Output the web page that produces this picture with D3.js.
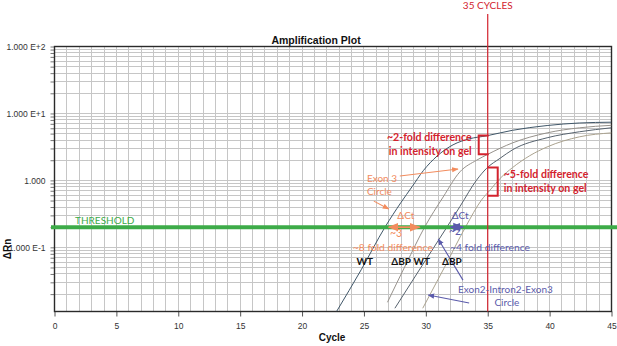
<!DOCTYPE html>
<html>
<head>
<meta charset="utf-8">
<script src="https://cdn.jsdelivr.net/npm/d3@7"></script>
<style>
  body { margin: 0; background: #fff; }
  svg { display: block; }
  .ann { font-family: Lato, "Open Sans", sans-serif; }
  .axis text { font-family: "Liberation Sans", Arial, sans-serif; font-size: 8.5px; fill: #333; }
</style>
</head>
<body>
<svg id="chart" width="617" height="346"></svg>
<script>
// tick labels
const cycleTicks = d3.range(0, 46, 5);
const yTickValues = [100, 10, 1, 0.1];
const yTickLabels = ["1.000 E+2", "1.000 E+1", "1.000", "1.000 E-1"];
const threshold = 0.2;
const markCycle = 35;

// Exon 3 circle, WT
const wtExon3Cycle = [22.8, 24.8, 26.7, 28.0, 28.9, 29.8, 30.9, 32.2, 33.5, 34.9, 37.0, 39.8, 42.4, 45];
const wtExon3Rn = [0.0111, 0.047, 0.2, 0.47, 0.81, 1.4, 2.3, 3.4, 4.17, 4.63, 5.6, 6.6, 7.2, 7.4];
// Exon 3 circle, ΔBP
const bpExon3Cycle = [26.9, 28.4, 29.9, 31.4, 32.75, 34.1, 35.0, 37.0, 39.8, 42.4, 45];
const bpExon3Rn = [0.0151, 0.056, 0.2, 0.565, 1.34, 2.0, 2.45, 3.63, 5.13, 6.1, 6.65];
// Exon2-Intron2-Exon3 circle, WT
const wtE2Cycle = [27.5, 29.6, 31.7, 32.75, 34.1, 34.9, 36.0, 37.0, 39.8, 42.4, 45];
const wtE2Rn = [0.0123, 0.05, 0.2, 0.405, 1.01, 1.51, 2.14, 2.86, 4.33, 5.32, 6.11];
// Exon2-Intron2-Exon3 circle, ΔBP
const bpE2Cycle = [29.75, 31.5, 33.2, 34.5, 35.2, 36.0, 37.0, 38.4, 39.8, 42.4, 45];
const bpE2Rn = [0.0123, 0.05, 0.2, 0.51, 0.72, 1.07, 1.55, 2.34, 3.16, 4.47, 5.13];

const curveLabels = ["WT", "ΔBP", "WT", "ΔBP"];
// Ct at threshold
const ctExon3 = [26.7, 29.8];
const ctE2 = [31.7, 33.3];

const series = [
  { cycle: wtExon3Cycle, rn: wtExon3Rn, color: "#3f5668" },
  { cycle: bpExon3Cycle, rn: bpExon3Rn, color: "#96918b" },
  { cycle: wtE2Cycle, rn: wtE2Rn, color: "#56626e" },
  { cycle: bpE2Cycle, rn: bpE2Rn, color: "#aaa28e" },
];

const W = 617, H = 346;
const margin = { top: 46.5, right: 5.5, bottom: 34.5, left: 54.5 };
const svg = d3.select("#chart");

const x = d3.scaleLinear().domain([0, 45]).range([margin.left, W - margin.right]);
const y = d3.scaleLog().domain([0.011, 100]).range([H - margin.bottom, margin.top]);
const x0 = x.range()[0], x1 = x.range()[1], yb = y.range()[0], yt = y.range()[1];

const RED = "#d3232e", ORANGE = "#f28c5e", BLUE = "#5b5bab", GREEN = "#3dab48";

const defs = svg.append("defs");
defs.append("clipPath").attr("id", "plot")
  .append("rect").attr("x", x0).attr("y", yt).attr("width", x1 - x0).attr("height", yb - yt);
function marker(id, color) {
  defs.append("marker").attr("id", id)
    .attr("viewBox", "0 0 10 10").attr("refX", 9).attr("refY", 5)
    .attr("markerWidth", 6).attr("markerHeight", 6)
    .attr("orient", "auto-start-reverse")
    .append("path").attr("d", "M0,1L10,5L0,9Z").attr("fill", color);
}
marker("arrO", ORANGE);
marker("arrB", BLUE);

// grid
const minor = y.ticks();
const grid = svg.append("g").attr("stroke", "#c6c6c6").attr("stroke-width", 1)
  .attr("shape-rendering", "crispEdges");
grid.selectAll("line.v").data(d3.range(1, 45)).join("line").attr("class", "v")
  .attr("x1", d => x(d)).attr("x2", d => x(d)).attr("y1", yt).attr("y2", yb);
grid.selectAll("line.h").data(minor.filter(v => v < 100)).join("line").attr("class", "h")
  .attr("x1", x0).attr("x2", x1).attr("y1", d => y(d)).attr("y2", d => y(d));

// axes
const isMajor = v => yTickValues.findIndex(t => Math.abs(Math.log10(t) - Math.log10(v)) < 1e-6);
svg.append("g").attr("class", "axis")
  .attr("transform", `translate(${x0},0)`)
  .call(d3.axisLeft(y).tickValues(minor).tickSize(4).tickPadding(5)
    .tickFormat(v => { const i = isMajor(v); return i < 0 ? "" : yTickLabels[i]; }))
  .call(g => g.select(".domain").remove())
  .call(g => g.selectAll(".tick line").attr("stroke", "#777"));

svg.append("g").attr("class", "axis")
  .attr("transform", `translate(0,${yb})`)
  .call(d3.axisBottom(x).tickValues(cycleTicks).tickSize(5).tickPadding(6).tickFormat(d3.format("d")))
  .call(g => g.select(".domain").remove())
  .call(g => g.selectAll(".tick line").attr("stroke", "#555"));

svg.append("rect").attr("x", x0).attr("y", yt).attr("width", x1 - x0).attr("height", yb - yt)
  .attr("fill", "none").attr("stroke", "#2a2a2a").attr("stroke-width", 1.4);

// titles
svg.append("text").attr("x", (x0 + x1) / 2 - 17).attr("y", 43.5).attr("text-anchor", "middle")
  .attr("font-family", "Liberation Sans, Arial, sans-serif").attr("font-weight", "bold")
  .attr("font-size", 10.5).attr("fill", "#111").text("Amplification Plot");
svg.append("text").attr("x", 332).attr("y", 341).attr("text-anchor", "middle")
  .attr("font-family", "Liberation Sans, Arial, sans-serif").attr("font-weight", "bold")
  .attr("font-size", 10).attr("fill", "#111").text("Cycle");
svg.append("text").attr("transform", "translate(11,249) rotate(-90)").attr("text-anchor", "middle")
  .attr("font-family", "Liberation Sans, Arial, sans-serif").attr("font-weight", "bold")
  .attr("font-size", 10).attr("fill", "#111").text("ΔRn");

// curves
const line = d3.line().x(d => x(d[0])).y(d => y(d[1])).curve(d3.curveMonotoneX);
svg.append("g").attr("clip-path", "url(#plot)")
  .selectAll("path").data(series).join("path")
  .attr("d", s => line(s.cycle.map((c, i) => [c, s.rn[i]])))
  .attr("fill", "none").attr("stroke", s => s.color).attr("stroke-width", 1);

// threshold
const yth = y(threshold);
svg.append("line").attr("x1", x0 - 3.5).attr("x2", W).attr("y1", yth).attr("y2", yth)
  .attr("stroke", GREEN).attr("stroke-width", 4);
svg.append("text").attr("class", "ann").attr("x", x(1.66)).attr("y", y(0.223))
  .attr("font-size", 10).attr("fill", GREEN).text("THRESHOLD");

// 35 cycles
svg.append("line").attr("x1", x(markCycle)).attr("x2", x(markCycle)).attr("y1", 14).attr("y2", yb)
  .attr("stroke", RED).attr("stroke-width", 1.2);
svg.append("text").attr("class", "ann").attr("x", x(markCycle)).attr("y", 9)
  .attr("text-anchor", "middle").attr("font-size", 10).attr("fill", RED).text("35 CYCLES");

function rnAt(s, c) {
  const i = d3.bisectLeft(s.cycle, c);
  const c0 = s.cycle[i - 1], c1 = s.cycle[i];
  const l0 = Math.log10(s.rn[i - 1]), l1 = Math.log10(s.rn[i]);
  return Math.pow(10, l0 + (l1 - l0) * (c - c0) / (c1 - c0));
}
const xm = x(markCycle);
const b = series.map(s => y(rnAt(s, markCycle)));
svg.append("path").attr("d", `M${xm + 1},${b[0]}H${xm - 9}V${b[1]}H${xm + 1}`)
  .attr("fill", "none").attr("stroke", RED).attr("stroke-width", 2);
svg.append("path").attr("d", `M${xm},${b[2]}H${xm + 10}V${b[3] + 3}H${xm}`)
  .attr("fill", "none").attr("stroke", RED).attr("stroke-width", 2);

function note(txt, cx, cy, color, opts = {}) {
  const t = svg.append("text").attr("class", "ann")
    .attr("x", cx).attr("y", cy).attr("fill", color)
    .attr("font-size", opts.size || 10)
    .attr("font-weight", opts.bold ? "bold" : "normal")
    .attr("text-anchor", opts.anchor || "start");
  [].concat(txt).forEach((s, i) => {
    t.append("tspan").attr("x", cx).attr("dy", i ? (opts.lh || 14) : 0).text(s);
  });
  return t;
}
function arrow(c0, v0, c1, v1, id, color, w = 1.1, both = false) {
  const l = svg.append("line").attr("x1", x(c0)).attr("y1", y(v0)).attr("x2", x(c1)).attr("y2", y(v1))
    .attr("stroke", color).attr("stroke-width", w).attr("marker-end", `url(#${id})`);
  if (both) l.attr("marker-start", `url(#${id})`);
}

note(["~2-fold difference", "in intensity on gel"], xm - 16, b[0] + 5, RED, { bold: true, anchor: "end", size: 10.6 });
note(["~5-fold difference", "in intensity on gel"], xm + 16, b[2] + 11, RED, { bold: true, size: 10.6 });

// Exon 3 circle notes
note(["Exon 3", "Circle"], x(25.24), y(0.95), ORANGE, { lh: 13 });
arrow(27.9, 1.16, 32.6, 1.48, "arrO", ORANGE);
arrow(25.8, 0.49, 27.0, 0.374, "arrO", ORANGE);
note("ΔCt", x(27.7), y(0.265), ORANGE);
arrow(ctExon3[0] + 0.3, threshold, ctExon3[1] - 0.3, threshold, "arrO", ORANGE, 1.8, true);
note("~3", x(27.1), y(0.143), ORANGE, { size: 10.5 });
note("~8 fold difference", x(24.1), y(0.088), ORANGE, { size: 10.3 });

// Exon2-Intron2-Exon3 circle notes
note("ΔCt", x(32.1), y(0.265), BLUE);
arrow(ctE2[0] + 0.3, threshold, ctE2[1] - 0.3, threshold, "arrB", BLUE, 1.8, true);
note("~2", x(31.87), y(0.153), BLUE, { size: 10.5 });
note("~4 fold difference", x(31.95), y(0.088), BLUE, { size: 10.3 });
note("Exon2-Intron2-Exon3", x(32.6), y(0.0207), BLUE);
note("Circle", x(36.55), y(0.0133), BLUE, { anchor: "middle" });
arrow(33.0, 0.0324, 31.0, 0.133, "arrB", BLUE);
arrow(33.5, 0.0147, 30.2, 0.0194, "arrB", BLUE);

// curve labels
const labelCycles = [24.4, 27.2, 29.0, 31.3];
labelCycles.forEach((c, i) => note(curveLabels[i], x(c), y(0.0543), "#111", { bold: true, size: 10 }));
</script>
</body>
</html>
